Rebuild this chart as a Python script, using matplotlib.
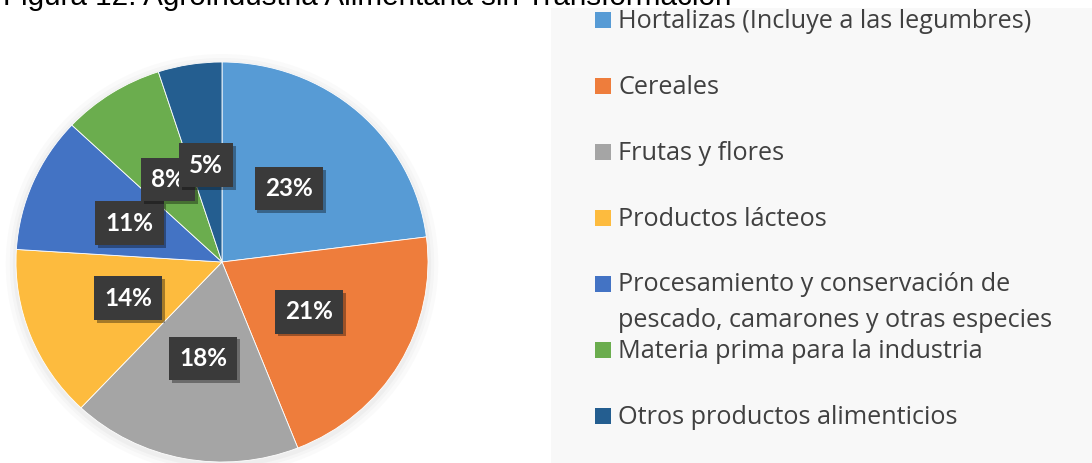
import matplotlib
matplotlib.use("Agg")
import matplotlib.pyplot as plt
import matplotlib.patheffects as pe
from matplotlib.patches import Rectangle, Ellipse

# data
categories = [
    "Hortalizas (Incluye a las legumbres)",
    "Cereales",
    "Frutas y flores",
    "Productos lácteos",
    "Procesamiento y conservación de\npescado, camarones y otras especies",
    "Materia prima para la industria",
    "Otros productos alimenticios",
]
shares = [23, 21, 18, 14, 11, 8, 5]
colors = ["#579BD5", "#EE7D3C", "#A5A5A5", "#FDBB3E", "#4373C4", "#6BAD4E", "#245E90"]
title = "Figura 12. Agroindustria Alimentaria sin Transformación"

W, H = 1092, 463
fig = plt.figure(figsize=(W / 100, H / 100), dpi=100)
fig.patch.set_facecolor("white")

# pixel-space overlay for title and legend panel
lax = fig.add_axes([0, 0, 1, 1])
lax.set_xlim(0, W)
lax.set_ylim(H, 0)
lax.axis("off")
lax.add_patch(Rectangle((551, 8), W - 551, H, facecolor="#f8f8f8", edgecolor="none", zorder=0))
lax.text(3, 5, title, fontsize=21.3, family="Liberation Sans", color="black",
         va="baseline", ha="left", zorder=5)

y0, step = 20, 66
for i, (lab, col) in enumerate(zip(categories, colors)):
    y = y0 + step * i
    lax.add_patch(Rectangle((595, y - 8), 16, 16, facecolor=col, edgecolor="none", zorder=2))
    t = lax.text(618, y + 1, lab, fontsize=18.2, family="Open Sans", color="#404040",
                 va="center", ha="left", linespacing=1.6, zorder=2)
    if "\n" in lab:
        # first line stays level with its square, second line runs into the gap
        t.set_va("top")
        t.set_y(y - 12)

# pie (slightly wider than tall, as in the reference)
cx, cy, rx, ry = 222, 262, 206, 200
pax = fig.add_axes([(cx - rx) / W, (H - cy - ry) / H, 2 * rx / W, 2 * ry / H])
for k, a in [(2.10, 0.035), (2.06, 0.045), (2.03, 0.06)]:
    pax.add_patch(Ellipse((0, -0.01), k, k, facecolor="#888888", alpha=a,
                          edgecolor="none", zorder=0, clip_on=False))
wedges, texts, autotexts = pax.pie(
    shares, colors=colors, startangle=90, counterclock=False,
    autopct="%d%%", pctdistance=0.49,
    wedgeprops=dict(edgecolor="white", linewidth=0.6),
    textprops=dict(color="white", fontsize=17.5, fontweight="bold", family="Lato"),
)
for t in autotexts:
    t.set_bbox(dict(boxstyle="square,pad=0.42", facecolor="#3a3a3a", edgecolor="none"))
    t.get_bbox_patch().set_path_effects([
        pe.SimplePatchShadow(offset=(2, -2), shadow_rgbFace="#000000", alpha=0.35),
        pe.Normal(),
    ])
pax.set_xlim(-1, 1)
pax.set_ylim(-1, 1)
pax.set_aspect("auto")
pax.axis("off")

fig.savefig("out.png", dpi=100)
